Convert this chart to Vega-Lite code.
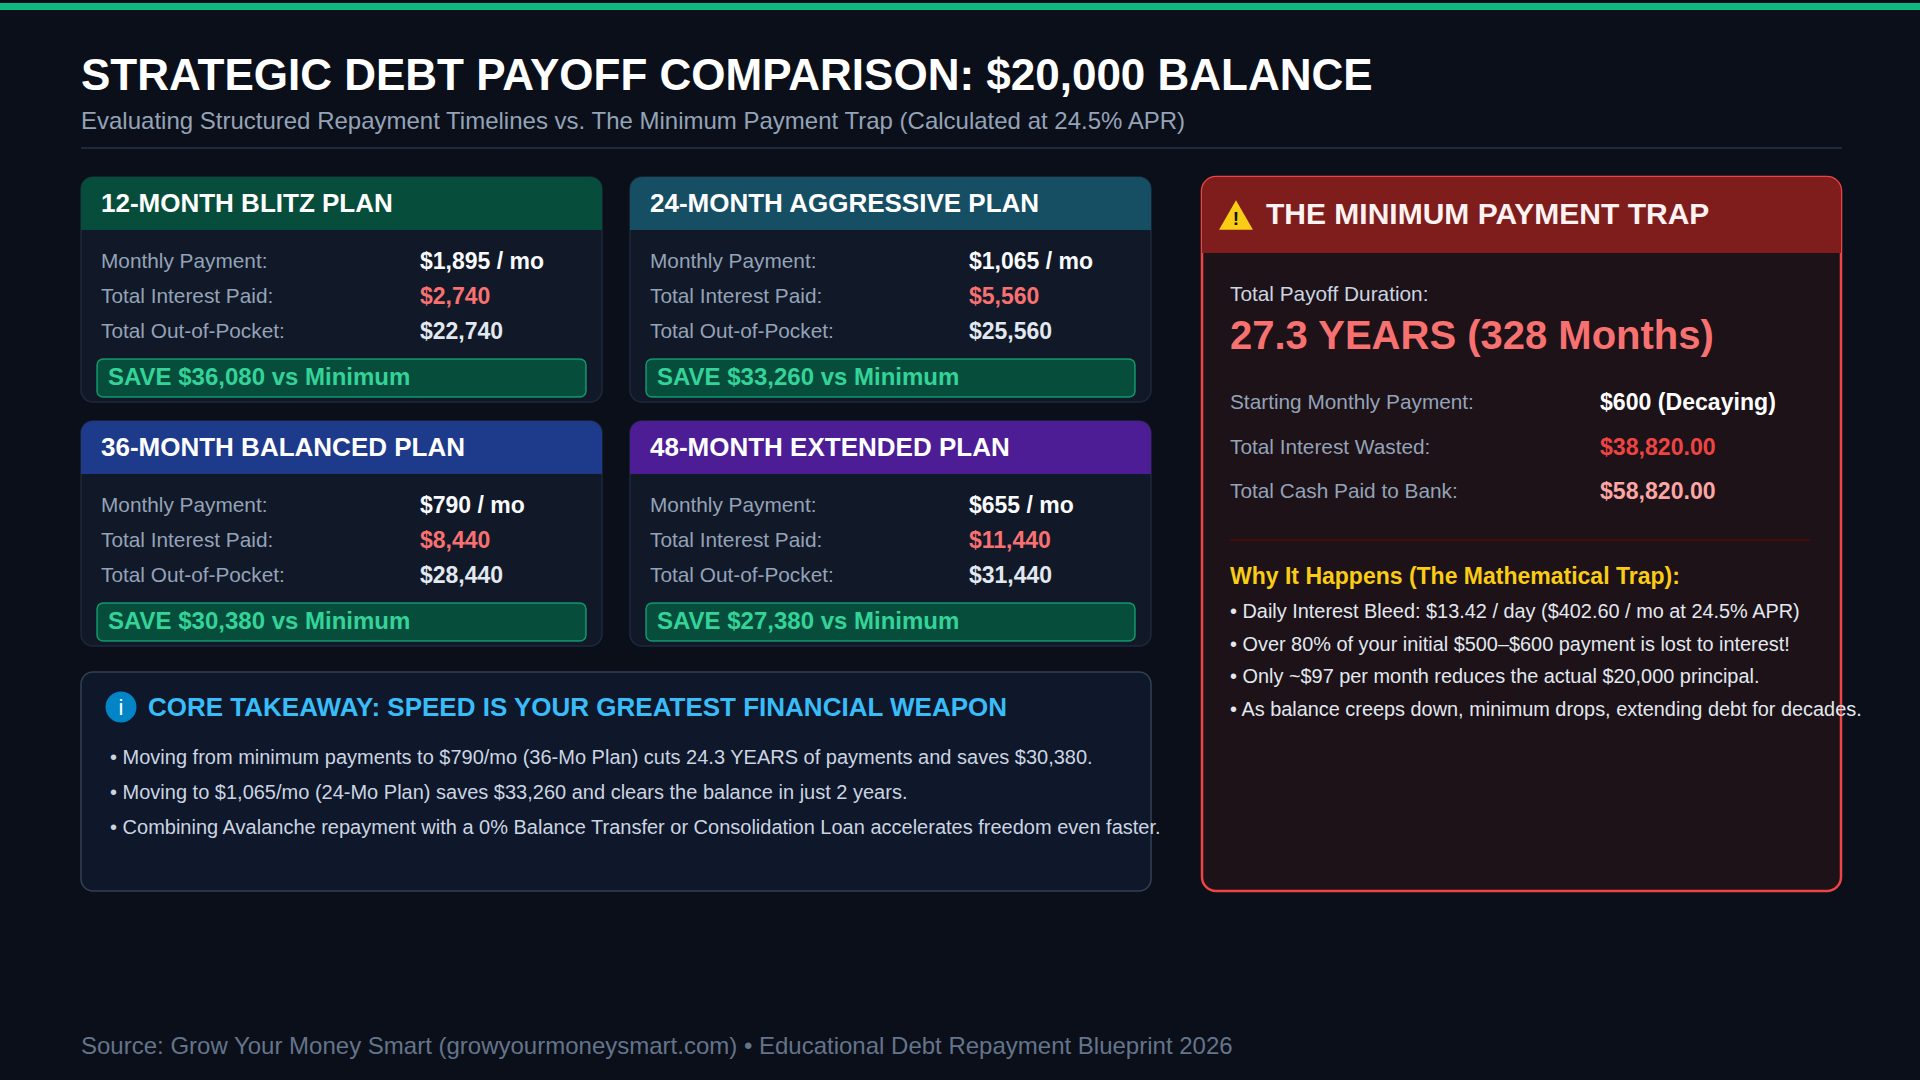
{
  "$schema": "https://vega.github.io/schema/vega-lite/v6.json",
  "background": "#0b0f19",
  "padding": {"left": 0, "top": 0, "right": 0, "bottom": 23},
  "config": {
    "view": {"stroke": null},
    "axis": {"disable": true},
    "legend": {"disable": true},
    "font": "Liberation Sans",
    "text": {"align": "left", "baseline": "middle", "font": "Liberation Sans"},
    "title": {"font": "Liberation Sans", "subtitleFont": "Liberation Sans", "anchor": "start", "frame": "group"}
  },
  "datasets": {
    "plans": [
      {"plan": "12-MONTH BLITZ PLAN", "stat": "Monthly Payment:", "value": "$1,895 / mo", "kind": "pay"},
      {"plan": "12-MONTH BLITZ PLAN", "stat": "Total Interest Paid:", "value": "$2,740", "kind": "interest"},
      {"plan": "12-MONTH BLITZ PLAN", "stat": "Total Out-of-Pocket:", "value": "$22,740", "kind": "total"},
      {"plan": "24-MONTH AGGRESSIVE PLAN", "stat": "Monthly Payment:", "value": "$1,065 / mo", "kind": "pay"},
      {"plan": "24-MONTH AGGRESSIVE PLAN", "stat": "Total Interest Paid:", "value": "$5,560", "kind": "interest"},
      {"plan": "24-MONTH AGGRESSIVE PLAN", "stat": "Total Out-of-Pocket:", "value": "$25,560", "kind": "total"},
      {"plan": "36-MONTH BALANCED PLAN", "stat": "Monthly Payment:", "value": "$790 / mo", "kind": "pay"},
      {"plan": "36-MONTH BALANCED PLAN", "stat": "Total Interest Paid:", "value": "$8,440", "kind": "interest"},
      {"plan": "36-MONTH BALANCED PLAN", "stat": "Total Out-of-Pocket:", "value": "$28,440", "kind": "total"},
      {"plan": "48-MONTH EXTENDED PLAN", "stat": "Monthly Payment:", "value": "$655 / mo", "kind": "pay"},
      {"plan": "48-MONTH EXTENDED PLAN", "stat": "Total Interest Paid:", "value": "$11,440", "kind": "interest"},
      {"plan": "48-MONTH EXTENDED PLAN", "stat": "Total Out-of-Pocket:", "value": "$31,440", "kind": "total"}
    ],
    "cards": [
      {"plan": "12-MONTH BLITZ PLAN", "save": "SAVE $36,080 vs Minimum"},
      {"plan": "24-MONTH AGGRESSIVE PLAN", "save": "SAVE $33,260 vs Minimum"},
      {"plan": "36-MONTH BALANCED PLAN", "save": "SAVE $30,380 vs Minimum"},
      {"plan": "48-MONTH EXTENDED PLAN", "save": "SAVE $27,380 vs Minimum"}
    ],
    "takeaway": [
      {"icon": "i", "head": "CORE TAKEAWAY: SPEED IS YOUR GREATEST FINANCIAL WEAPON"}
    ],
    "takeaway_points": [
      {"n": 1, "text": "• Moving from minimum payments to $790/mo (36-Mo Plan) cuts 24.3 YEARS of payments and saves $30,380."},
      {"n": 2, "text": "• Moving to $1,065/mo (24-Mo Plan) saves $33,260 and clears the balance in just 2 years."},
      {"n": 3, "text": "• Combining Avalanche repayment with a 0% Balance Transfer or Consolidation Loan accelerates freedom even faster."}
    ],
    "trap": [
      {"title": "THE MINIMUM PAYMENT TRAP", "icon": "!", "durationLabel": "Total Payoff Duration:", "duration": "27.3 YEARS (328 Months)", "why": "Why It Happens (The Mathematical Trap):"}
    ],
    "trap_stats": [
      {"stat": "Starting Monthly Payment:", "value": "$600 (Decaying)", "kind": "start"},
      {"stat": "Total Interest Wasted:", "value": "$38,820.00", "kind": "interest"},
      {"stat": "Total Cash Paid to Bank:", "value": "$58,820.00", "kind": "cash"}
    ],
    "trap_points": [
      {"n": 1, "text": "• Daily Interest Bleed: $13.42 / day ($402.60 / mo at 24.5% APR)"},
      {"n": 2, "text": "• Over 80% of your initial $500–$600 payment is lost to interest!"},
      {"n": 3, "text": "• Only ~$97 per month reduces the actual $20,000 principal."},
      {"n": 4, "text": "• As balance creeps down, minimum drops, extending debt for decades."}
    ]
  },
  "spacing": 43,
  "vconcat": [
    {"width": 1920, "height": 7, "view": {"fill": "#10b981"}, "data": {"values": [{}]}, "mark": {"type": "text", "text": ""}},
    {
      "spacing": 0,
      "hconcat": [
        {"width": 80, "height": 2, "data": {"values": [{}]}, "mark": {"type": "text", "text": ""}},
        {
          "spacing": 22,
          "vconcat": [
            {
              "width": 1761, "height": 2,
              "view": {"fill": "#1e293b"},
              "title": {
                "text": "STRATEGIC DEBT PAYOFF COMPARISON: $20,000 BALANCE",
                "subtitle": "Evaluating Structured Repayment Timelines vs. The Minimum Payment Trap (Calculated at 24.5% APR)",
                "fontSize": 44, "fontWeight": "bold", "color": "#ffffff",
                "subtitleFontSize": 24, "subtitleColor": "#94a3b8", "subtitlePadding": 11, "offset": 8
              },
              "data": {"values": [{}]},
              "mark": {"type": "text", "text": ""}
            },
            {
              "spacing": 37,
              "title": {
                "text": "Source: Grow Your Money Smart (growyourmoneysmart.com) • Educational Debt Repayment Blueprint 2026",
                "orient": "bottom", "fontSize": 24, "fontWeight": "normal", "color": "#64748b", "offset": 143
              },
              "hconcat": [
                {
                  "spacing": 24,
                  "vconcat": [
                    {
                      "spacing": 17,
                      "vconcat": [
                        {
                          "spacing": 26,
                          "hconcat": [
                            {
                              "width": 521, "height": 225,
                              "view": {"fill": "#111827", "stroke": "#1e293b", "strokeWidth": 1.5, "cornerRadius": 12},
                              "resolve": {"scale": {"x": "independent", "y": "independent", "color": "independent"}},
                              "layer": [
                                {"data": {"name": "cards"}, "transform": [{"filter": "datum.plan === '12-MONTH BLITZ PLAN'"}],
                                 "mark": {"type": "rect", "color": "#064e3b", "cornerRadiusTopLeft": 12, "cornerRadiusTopRight": 12},
                                 "encoding": {"x": {"datum": "head", "type": "nominal", "scale": {"type": "band", "range": [0, 521], "padding": 0}},
                                              "y": {"datum": "head", "type": "nominal", "scale": {"type": "band", "range": [0, 53], "padding": 0}}}},
                                {"data": {"name": "cards"}, "transform": [{"filter": "datum.plan === '12-MONTH BLITZ PLAN'"}],
                                 "mark": {"type": "text", "fontSize": 26, "fontWeight": "bold", "color": "#ffffff"},
                                 "encoding": {"text": {"field": "plan"},
                                              "x": {"datum": "t", "type": "nominal", "scale": {"type": "point", "range": [20, 20]}},
                                              "y": {"datum": "t", "type": "nominal", "scale": {"type": "point", "range": [27, 27]}}}},
                                {"data": {"name": "plans"}, "transform": [{"filter": "datum.plan === '12-MONTH BLITZ PLAN'"}],
                                 "mark": {"type": "text", "fontSize": 20.8, "color": "#94a3b8"},
                                 "encoding": {"text": {"field": "stat"},
                                              "x": {"datum": "t", "type": "nominal", "scale": {"type": "point", "range": [20, 20]}},
                                              "y": {"field": "stat", "type": "nominal", "sort": null, "scale": {"type": "point", "range": [85, 155], "padding": 0}}}},
                                {"data": {"name": "plans"}, "transform": [{"filter": "datum.plan === '12-MONTH BLITZ PLAN'"}],
                                 "mark": {"type": "text", "fontSize": 23, "fontWeight": "bold"},
                                 "encoding": {"text": {"field": "value"},
                                              "x": {"datum": "t", "type": "nominal", "scale": {"type": "point", "range": [339, 339]}},
                                              "y": {"field": "stat", "type": "nominal", "sort": null, "scale": {"type": "point", "range": [85, 155], "padding": 0}},
                                              "color": {"field": "kind", "type": "nominal", "scale": {"domain": ["pay", "interest", "total"], "range": ["#f8fafc", "#f87171", "#e2e8f0"]}}}},
                                {"data": {"name": "cards"}, "transform": [{"filter": "datum.plan === '12-MONTH BLITZ PLAN'"}],
                                 "mark": {"type": "rect", "fill": "#064e3b", "stroke": "#10b981", "strokeOpacity": 0.75, "strokeWidth": 1.5, "cornerRadius": 6},
                                 "encoding": {"x": {"datum": "box", "type": "nominal", "scale": {"type": "band", "range": [16, 505], "padding": 0}},
                                              "y": {"datum": "box", "type": "nominal", "scale": {"type": "band", "range": [182, 220], "padding": 0}}}},
                                {"data": {"name": "cards"}, "transform": [{"filter": "datum.plan === '12-MONTH BLITZ PLAN'"}],
                                 "mark": {"type": "text", "fontSize": 24, "fontWeight": "bold", "color": "#34d399"},
                                 "encoding": {"text": {"field": "save"},
                                              "x": {"datum": "t", "type": "nominal", "scale": {"type": "point", "range": [27, 27]}},
                                              "y": {"datum": "t", "type": "nominal", "scale": {"type": "point", "range": [201, 201]}}}}
                              ]
                            },
                            {
                              "width": 521, "height": 225,
                              "view": {"fill": "#111827", "stroke": "#1e293b", "strokeWidth": 1.5, "cornerRadius": 12},
                              "resolve": {"scale": {"x": "independent", "y": "independent", "color": "independent"}},
                              "layer": [
                                {"data": {"name": "cards"}, "transform": [{"filter": "datum.plan === '24-MONTH AGGRESSIVE PLAN'"}],
                                 "mark": {"type": "rect", "color": "#164e63", "cornerRadiusTopLeft": 12, "cornerRadiusTopRight": 12},
                                 "encoding": {"x": {"datum": "head", "type": "nominal", "scale": {"type": "band", "range": [0, 521], "padding": 0}},
                                              "y": {"datum": "head", "type": "nominal", "scale": {"type": "band", "range": [0, 53], "padding": 0}}}},
                                {"data": {"name": "cards"}, "transform": [{"filter": "datum.plan === '24-MONTH AGGRESSIVE PLAN'"}],
                                 "mark": {"type": "text", "fontSize": 26, "fontWeight": "bold", "color": "#ffffff"},
                                 "encoding": {"text": {"field": "plan"},
                                              "x": {"datum": "t", "type": "nominal", "scale": {"type": "point", "range": [20, 20]}},
                                              "y": {"datum": "t", "type": "nominal", "scale": {"type": "point", "range": [27, 27]}}}},
                                {"data": {"name": "plans"}, "transform": [{"filter": "datum.plan === '24-MONTH AGGRESSIVE PLAN'"}],
                                 "mark": {"type": "text", "fontSize": 20.8, "color": "#94a3b8"},
                                 "encoding": {"text": {"field": "stat"},
                                              "x": {"datum": "t", "type": "nominal", "scale": {"type": "point", "range": [20, 20]}},
                                              "y": {"field": "stat", "type": "nominal", "sort": null, "scale": {"type": "point", "range": [85, 155], "padding": 0}}}},
                                {"data": {"name": "plans"}, "transform": [{"filter": "datum.plan === '24-MONTH AGGRESSIVE PLAN'"}],
                                 "mark": {"type": "text", "fontSize": 23, "fontWeight": "bold"},
                                 "encoding": {"text": {"field": "value"},
                                              "x": {"datum": "t", "type": "nominal", "scale": {"type": "point", "range": [339, 339]}},
                                              "y": {"field": "stat", "type": "nominal", "sort": null, "scale": {"type": "point", "range": [85, 155], "padding": 0}},
                                              "color": {"field": "kind", "type": "nominal", "scale": {"domain": ["pay", "interest", "total"], "range": ["#f8fafc", "#f87171", "#e2e8f0"]}}}},
                                {"data": {"name": "cards"}, "transform": [{"filter": "datum.plan === '24-MONTH AGGRESSIVE PLAN'"}],
                                 "mark": {"type": "rect", "fill": "#064e3b", "stroke": "#10b981", "strokeOpacity": 0.75, "strokeWidth": 1.5, "cornerRadius": 6},
                                 "encoding": {"x": {"datum": "box", "type": "nominal", "scale": {"type": "band", "range": [16, 505], "padding": 0}},
                                              "y": {"datum": "box", "type": "nominal", "scale": {"type": "band", "range": [182, 220], "padding": 0}}}},
                                {"data": {"name": "cards"}, "transform": [{"filter": "datum.plan === '24-MONTH AGGRESSIVE PLAN'"}],
                                 "mark": {"type": "text", "fontSize": 24, "fontWeight": "bold", "color": "#34d399"},
                                 "encoding": {"text": {"field": "save"},
                                              "x": {"datum": "t", "type": "nominal", "scale": {"type": "point", "range": [27, 27]}},
                                              "y": {"datum": "t", "type": "nominal", "scale": {"type": "point", "range": [201, 201]}}}}
                              ]
                            }
                          ]
                        },
                        {
                          "spacing": 26,
                          "hconcat": [
                            {
                              "width": 521, "height": 225,
                              "view": {"fill": "#111827", "stroke": "#1e293b", "strokeWidth": 1.5, "cornerRadius": 12},
                              "resolve": {"scale": {"x": "independent", "y": "independent", "color": "independent"}},
                              "layer": [
                                {"data": {"name": "cards"}, "transform": [{"filter": "datum.plan === '36-MONTH BALANCED PLAN'"}],
                                 "mark": {"type": "rect", "color": "#1e3a8a", "cornerRadiusTopLeft": 12, "cornerRadiusTopRight": 12},
                                 "encoding": {"x": {"datum": "head", "type": "nominal", "scale": {"type": "band", "range": [0, 521], "padding": 0}},
                                              "y": {"datum": "head", "type": "nominal", "scale": {"type": "band", "range": [0, 53], "padding": 0}}}},
                                {"data": {"name": "cards"}, "transform": [{"filter": "datum.plan === '36-MONTH BALANCED PLAN'"}],
                                 "mark": {"type": "text", "fontSize": 26, "fontWeight": "bold", "color": "#ffffff"},
                                 "encoding": {"text": {"field": "plan"},
                                              "x": {"datum": "t", "type": "nominal", "scale": {"type": "point", "range": [20, 20]}},
                                              "y": {"datum": "t", "type": "nominal", "scale": {"type": "point", "range": [27, 27]}}}},
                                {"data": {"name": "plans"}, "transform": [{"filter": "datum.plan === '36-MONTH BALANCED PLAN'"}],
                                 "mark": {"type": "text", "fontSize": 20.8, "color": "#94a3b8"},
                                 "encoding": {"text": {"field": "stat"},
                                              "x": {"datum": "t", "type": "nominal", "scale": {"type": "point", "range": [20, 20]}},
                                              "y": {"field": "stat", "type": "nominal", "sort": null, "scale": {"type": "point", "range": [85, 155], "padding": 0}}}},
                                {"data": {"name": "plans"}, "transform": [{"filter": "datum.plan === '36-MONTH BALANCED PLAN'"}],
                                 "mark": {"type": "text", "fontSize": 23, "fontWeight": "bold"},
                                 "encoding": {"text": {"field": "value"},
                                              "x": {"datum": "t", "type": "nominal", "scale": {"type": "point", "range": [339, 339]}},
                                              "y": {"field": "stat", "type": "nominal", "sort": null, "scale": {"type": "point", "range": [85, 155], "padding": 0}},
                                              "color": {"field": "kind", "type": "nominal", "scale": {"domain": ["pay", "interest", "total"], "range": ["#f8fafc", "#f87171", "#e2e8f0"]}}}},
                                {"data": {"name": "cards"}, "transform": [{"filter": "datum.plan === '36-MONTH BALANCED PLAN'"}],
                                 "mark": {"type": "rect", "fill": "#064e3b", "stroke": "#10b981", "strokeOpacity": 0.75, "strokeWidth": 1.5, "cornerRadius": 6},
                                 "encoding": {"x": {"datum": "box", "type": "nominal", "scale": {"type": "band", "range": [16, 505], "padding": 0}},
                                              "y": {"datum": "box", "type": "nominal", "scale": {"type": "band", "range": [182, 220], "padding": 0}}}},
                                {"data": {"name": "cards"}, "transform": [{"filter": "datum.plan === '36-MONTH BALANCED PLAN'"}],
                                 "mark": {"type": "text", "fontSize": 24, "fontWeight": "bold", "color": "#34d399"},
                                 "encoding": {"text": {"field": "save"},
                                              "x": {"datum": "t", "type": "nominal", "scale": {"type": "point", "range": [27, 27]}},
                                              "y": {"datum": "t", "type": "nominal", "scale": {"type": "point", "range": [201, 201]}}}}
                              ]
                            },
                            {
                              "width": 521, "height": 225,
                              "view": {"fill": "#111827", "stroke": "#1e293b", "strokeWidth": 1.5, "cornerRadius": 12},
                              "resolve": {"scale": {"x": "independent", "y": "independent", "color": "independent"}},
                              "layer": [
                                {"data": {"name": "cards"}, "transform": [{"filter": "datum.plan === '48-MONTH EXTENDED PLAN'"}],
                                 "mark": {"type": "rect", "color": "#4c1d95", "cornerRadiusTopLeft": 12, "cornerRadiusTopRight": 12},
                                 "encoding": {"x": {"datum": "head", "type": "nominal", "scale": {"type": "band", "range": [0, 521], "padding": 0}},
                                              "y": {"datum": "head", "type": "nominal", "scale": {"type": "band", "range": [0, 53], "padding": 0}}}},
                                {"data": {"name": "cards"}, "transform": [{"filter": "datum.plan === '48-MONTH EXTENDED PLAN'"}],
                                 "mark": {"type": "text", "fontSize": 26, "fontWeight": "bold", "color": "#ffffff"},
                                 "encoding": {"text": {"field": "plan"},
                                              "x": {"datum": "t", "type": "nominal", "scale": {"type": "point", "range": [20, 20]}},
                                              "y": {"datum": "t", "type": "nominal", "scale": {"type": "point", "range": [27, 27]}}}},
                                {"data": {"name": "plans"}, "transform": [{"filter": "datum.plan === '48-MONTH EXTENDED PLAN'"}],
                                 "mark": {"type": "text", "fontSize": 20.8, "color": "#94a3b8"},
                                 "encoding": {"text": {"field": "stat"},
                                              "x": {"datum": "t", "type": "nominal", "scale": {"type": "point", "range": [20, 20]}},
                                              "y": {"field": "stat", "type": "nominal", "sort": null, "scale": {"type": "point", "range": [85, 155], "padding": 0}}}},
                                {"data": {"name": "plans"}, "transform": [{"filter": "datum.plan === '48-MONTH EXTENDED PLAN'"}],
                                 "mark": {"type": "text", "fontSize": 23, "fontWeight": "bold"},
                                 "encoding": {"text": {"field": "value"},
                                              "x": {"datum": "t", "type": "nominal", "scale": {"type": "point", "range": [339, 339]}},
                                              "y": {"field": "stat", "type": "nominal", "sort": null, "scale": {"type": "point", "range": [85, 155], "padding": 0}},
                                              "color": {"field": "kind", "type": "nominal", "scale": {"domain": ["pay", "interest", "total"], "range": ["#f8fafc", "#f87171", "#e2e8f0"]}}}},
                                {"data": {"name": "cards"}, "transform": [{"filter": "datum.plan === '48-MONTH EXTENDED PLAN'"}],
                                 "mark": {"type": "rect", "fill": "#064e3b", "stroke": "#10b981", "strokeOpacity": 0.75, "strokeWidth": 1.5, "cornerRadius": 6},
                                 "encoding": {"x": {"datum": "box", "type": "nominal", "scale": {"type": "band", "range": [16, 505], "padding": 0}},
                                              "y": {"datum": "box", "type": "nominal", "scale": {"type": "band", "range": [182, 220], "padding": 0}}}},
                                {"data": {"name": "cards"}, "transform": [{"filter": "datum.plan === '48-MONTH EXTENDED PLAN'"}],
                                 "mark": {"type": "text", "fontSize": 24, "fontWeight": "bold", "color": "#34d399"},
                                 "encoding": {"text": {"field": "save"},
                                              "x": {"datum": "t", "type": "nominal", "scale": {"type": "point", "range": [27, 27]}},
                                              "y": {"datum": "t", "type": "nominal", "scale": {"type": "point", "range": [201, 201]}}}}
                              ]
                            }
                          ]
                        }
                      ]
                    },
                    {
                      "width": 1070, "height": 219,
                      "view": {"fill": "#0f172a", "stroke": "#334155", "strokeWidth": 1.5, "cornerRadius": 12},
                      "resolve": {"scale": {"x": "independent", "y": "independent"}},
                      "layer": [
                        {"data": {"name": "takeaway"},
                         "mark": {"type": "point", "shape": "circle", "filled": true, "size": 961, "opacity": 1, "color": "#0284c7"},
                         "encoding": {"x": {"datum": "t", "type": "nominal", "scale": {"type": "point", "range": [40, 40]}},
                                      "y": {"datum": "t", "type": "nominal", "scale": {"type": "point", "range": [35, 35]}}}},
                        {"data": {"name": "takeaway"},
                         "mark": {"type": "text", "align": "center", "fontSize": 22, "color": "#ffffff"},
                         "encoding": {"text": {"field": "icon"},
                                      "x": {"datum": "t", "type": "nominal", "scale": {"type": "point", "range": [40, 40]}},
                                      "y": {"datum": "t", "type": "nominal", "scale": {"type": "point", "range": [36, 36]}}}},
                        {"data": {"name": "takeaway"},
                         "mark": {"type": "text", "fontSize": 26, "fontWeight": "bold", "color": "#38bdf8"},
                         "encoding": {"text": {"field": "head"},
                                      "x": {"datum": "t", "type": "nominal", "scale": {"type": "point", "range": [67, 67]}},
                                      "y": {"datum": "t", "type": "nominal", "scale": {"type": "point", "range": [36, 36]}}}},
                        {"data": {"name": "takeaway_points"},
                         "mark": {"type": "text", "fontSize": 20, "color": "#cbd5e1"},
                         "encoding": {"text": {"field": "text"},
                                      "x": {"datum": "t", "type": "nominal", "scale": {"type": "point", "range": [29, 29]}},
                                      "y": {"field": "n", "type": "ordinal", "scale": {"type": "point", "range": [86, 156], "padding": 0}}}}
                      ]
                    }
                  ]
                },
                {
                  "width": 639, "height": 714,
                  "view": {"fill": "#1c1217", "stroke": "#ef4444", "strokeWidth": 2.5, "cornerRadius": 14},
                  "resolve": {"scale": {"x": "independent", "y": "independent", "color": "independent"}},
                  "layer": [
                    {"data": {"name": "trap"},
                     "mark": {"type": "rect", "color": "#7f1d1d", "cornerRadiusTopLeft": 14, "cornerRadiusTopRight": 14},
                     "encoding": {"x": {"datum": "head", "type": "nominal", "scale": {"type": "band", "range": [0, 639], "padding": 0}},
                                  "y": {"datum": "head", "type": "nominal", "scale": {"type": "band", "range": [0, 76], "padding": 0}}}},
                    {"data": {"name": "trap"},
                     "mark": {"type": "point", "shape": "triangle-up", "filled": true, "size": 1150, "opacity": 1, "color": "#facc15"},
                     "encoding": {"x": {"datum": "t", "type": "nominal", "scale": {"type": "point", "range": [34, 34]}},
                                  "y": {"datum": "t", "type": "nominal", "scale": {"type": "point", "range": [38, 38]}}}},
                    {"data": {"name": "trap"},
                     "mark": {"type": "text", "align": "center", "fontSize": 19, "fontWeight": "bold", "color": "#111111"},
                     "encoding": {"text": {"field": "icon"},
                                  "x": {"datum": "t", "type": "nominal", "scale": {"type": "point", "range": [34, 34]}},
                                  "y": {"datum": "t", "type": "nominal", "scale": {"type": "point", "range": [42, 42]}}}},
                    {"data": {"name": "trap"},
                     "mark": {"type": "text", "fontSize": 30, "fontWeight": "bold", "color": "#fef2f2"},
                     "encoding": {"text": {"field": "title"},
                                  "x": {"datum": "t", "type": "nominal", "scale": {"type": "point", "range": [64, 64]}},
                                  "y": {"datum": "t", "type": "nominal", "scale": {"type": "point", "range": [38, 38]}}}},
                    {"data": {"name": "trap"},
                     "mark": {"type": "text", "fontSize": 20.8, "color": "#cbd5e1"},
                     "encoding": {"text": {"field": "durationLabel"},
                                  "x": {"datum": "t", "type": "nominal", "scale": {"type": "point", "range": [28, 28]}},
                                  "y": {"datum": "t", "type": "nominal", "scale": {"type": "point", "range": [118, 118]}}}},
                    {"data": {"name": "trap"},
                     "mark": {"type": "text", "fontSize": 40, "fontWeight": "bold", "color": "#f87171"},
                     "encoding": {"text": {"field": "duration"},
                                  "x": {"datum": "t", "type": "nominal", "scale": {"type": "point", "range": [28, 28]}},
                                  "y": {"datum": "t", "type": "nominal", "scale": {"type": "point", "range": [160, 160]}}}},
                    {"data": {"name": "trap_stats"},
                     "mark": {"type": "text", "fontSize": 20.8, "color": "#94a3b8"},
                     "encoding": {"text": {"field": "stat"},
                                  "x": {"datum": "t", "type": "nominal", "scale": {"type": "point", "range": [28, 28]}},
                                  "y": {"field": "stat", "type": "nominal", "sort": null, "scale": {"type": "point", "range": [226, 315], "padding": 0}}}},
                    {"data": {"name": "trap_stats"},
                     "mark": {"type": "text", "fontSize": 23.1, "fontWeight": "bold"},
                     "encoding": {"text": {"field": "value"},
                                  "x": {"datum": "t", "type": "nominal", "scale": {"type": "point", "range": [398, 398]}},
                                  "y": {"field": "stat", "type": "nominal", "sort": null, "scale": {"type": "point", "range": [226, 315], "padding": 0}},
                                  "color": {"field": "kind", "type": "nominal", "scale": {"domain": ["start", "interest", "cash"], "range": ["#ffffff", "#ef4444", "#fca5a5"]}}}},
                    {"data": {"name": "trap"},
                     "mark": {"type": "rect", "color": "#450a0a"},
                     "encoding": {"x": {"datum": "line", "type": "nominal", "scale": {"type": "band", "range": [28, 608], "padding": 0}},
                                  "y": {"datum": "line", "type": "nominal", "scale": {"type": "band", "range": [362, 364], "padding": 0}}}},
                    {"data": {"name": "trap"},
                     "mark": {"type": "text", "fontSize": 23, "fontWeight": "bold", "color": "#facc15"},
                     "encoding": {"text": {"field": "why"},
                                  "x": {"datum": "t", "type": "nominal", "scale": {"type": "point", "range": [28, 28]}},
                                  "y": {"datum": "t", "type": "nominal", "scale": {"type": "point", "range": [400, 400]}}}},
                    {"data": {"name": "trap_points"},
                     "mark": {"type": "text", "fontSize": 19.9, "color": "#e2e8f0"},
                     "encoding": {"text": {"field": "text"},
                                  "x": {"datum": "t", "type": "nominal", "scale": {"type": "point", "range": [28, 28]}},
                                  "y": {"field": "n", "type": "ordinal", "scale": {"type": "point", "range": [435, 533], "padding": 0}}}}
                  ]
                }
              ]
            }
          ]
        }
      ]
    }
  ]
}
